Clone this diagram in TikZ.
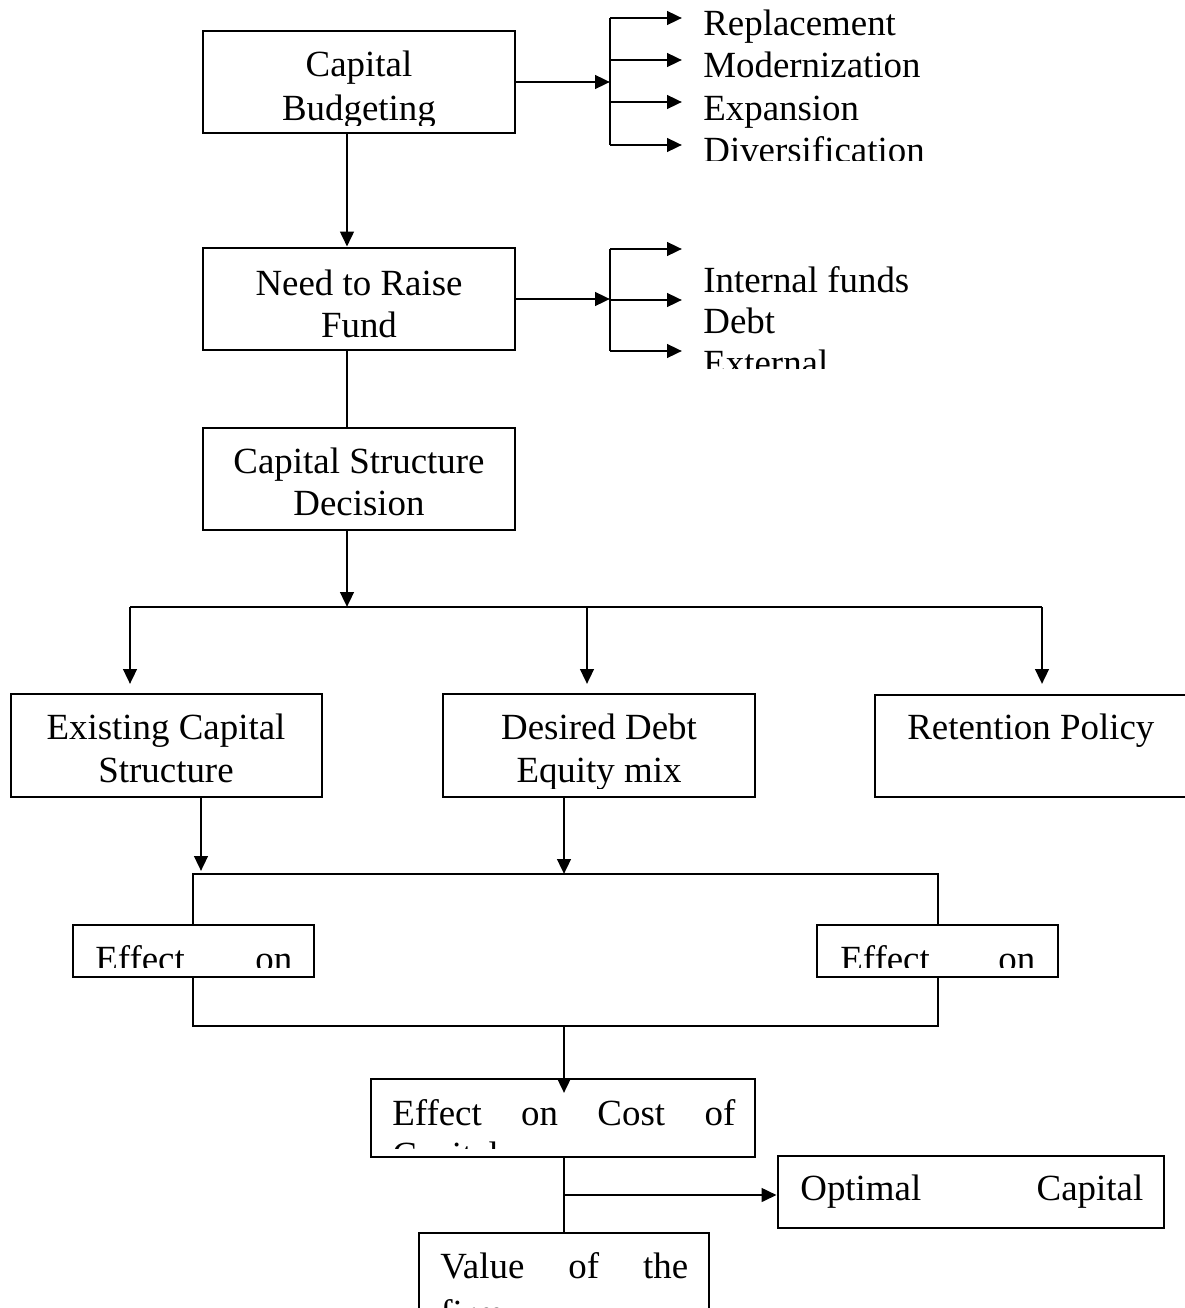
\documentclass[tikz,border=0pt]{standalone}
\usepackage{fontspec}
\setmainfont{Liberation Serif}
\usetikzlibrary{arrows.meta,fit,calc}

\begin{document}
\begin{tikzpicture}[x=0.02cm,y=-0.02cm,
    box/.style={draw,line width=1.6pt,inner sep=0pt},
    link/.style={line width=1.6pt},
    arr/.style={link,-{Triangle[length=0.3cm,width=0.27cm]}},
    txt/.style={inner sep=0pt,anchor=base,font=\fontsize{21}{25}\selectfont},
    ltxt/.style={txt,anchor=base west}]
  \useasboundingbox (0,0) rectangle (1184,1308);

  \node[box,fit={(203,31) (515,133)}] (budget) {};
  \node[box,fit={(203,248) (515,350)}] (fund) {};
  \node[box,fit={(203,428) (515,530)}] (csd) {};
  \node[box,fit={(11,694) (322,797)}] (exist) {};
  \node[box,fit={(443,694) (755,797)}] (mix) {};
  \node[box,fit={(875,695) (1192,797)}] (retain) {};
  \node[box,fit={(73,925) (314,977)}] (effL) {};
  \node[box,fit={(817,925) (1058,977)}] (effR) {};
  \node[box,fit={(371,1079) (755,1157)}] (cost) {};
  \node[box,fit={(778,1156) (1164,1228)}] (opt) {};
  \node[box,fit={(419,1233) (709,1330)}] (value) {};

  \begin{scope}
    \clip (205,33) rectangle (513,126);
    \node[txt] (budgetA) at (359,77) {Capital};
    \node[txt] (budgetB) at (359,120) {Budgeting};
  \end{scope}
  \node[txt] (fundA) at (359,295) {Need to Raise};
  \node[txt] (fundB) at (359,337) {Fund};
  \node[txt] (csdA) at (359,473) {Capital Structure};
  \node[txt] (csdB) at (359,515) {Decision};
  \node[txt] (existA) at (166,739) {Existing Capital};
  \node[txt] (existB) at (166,782) {Structure};
  \begin{scope}
    \clip (445,696) rectangle (753,788);
    \node[txt] (mixA) at (599,739) {Desired Debt};
    \node[txt] (mixB) at (599,782) {Equity mix};
  \end{scope}
  \node[ltxt] (retainA) at (907,739) {Retention Policy};
  \begin{scope}
    \clip (75,927) rectangle (312,967);
    \node[ltxt] (effLA) at (95,971) {\hbox to 3.94cm{Effect\hfill on}};
  \end{scope}
  \begin{scope}
    \clip (819,927) rectangle (1056,967);
    \node[ltxt] (effRA) at (840,971) {\hbox to 3.9cm{Effect\hfill on}};
  \end{scope}
  \begin{scope}
    \clip (373,1081) rectangle (753,1148);
    \node[ltxt] (costA) at (392,1125) {\hbox to 6.86cm{Effect\hfill on\hfill Cost\hfill of}};
    \node[ltxt] (costB) at (392,1167) {Capital};
  \end{scope}
  \node[ltxt] (optA) at (800,1200) {\hbox to 6.86cm{Optimal\hfill Capital}};
  \node[ltxt] (valueA) at (440,1278) {\hbox to 4.96cm{Value\hfill of\hfill the}};
  \node[ltxt] (valueB) at (440,1325) {firm};

  \begin{scope}
    \clip (690,0) rectangle (1000,160);
    \foreach \b/\t [count=\i] in {36/Replacement,78/Modernization,120/Expansion,162/Diversification}
      \node[ltxt] (use\i) at (703,\b) {\t};
  \end{scope}
  \begin{scope}
    \clip (690,240) rectangle (1000,368);
    \foreach \b/\t [count=\i] in {292/Internal funds,333/Debt,375/External}
      \node[ltxt] (src\i) at (703,\b) {\t};
  \end{scope}

  \coordinate (forkA) at (610,80);
  \draw[arr] (budget.east) -- (budget.east -| forkA);
  \foreach \y [count=\i] in {18,60,102,145} {
    \coordinate (tipA\i) at (682,\y);
    \draw[arr] (tipA\i -| forkA) -- (tipA\i);
  }
  \draw[link] (tipA1 -| forkA) -- (tipA4 -| forkA);

  \coordinate (forkB) at (610,299);
  \draw[arr] (fund.east) -- (fund.east -| forkB);
  \foreach \y [count=\i] in {249,300,351} {
    \coordinate (tipB\i) at (682,\y);
    \draw[arr] (tipB\i -| forkB) -- (tipB\i);
  }
  \draw[link] (tipB1 -| forkB) -- (tipB3 -| forkB);

  \coordinate (spine) at (347,0);
  \coordinate (split) at (347,607);
  \draw[arr] (budget.south -| spine) -- (fund.north -| spine);
  \draw[link] (fund.south -| spine) -- (csd.north -| spine);
  \draw[arr] (csd.south -| spine) -- (split);
  \foreach \n/\x in {exist/130,mix/587,retain/1042} {
    \coordinate (in-\n) at (\x,684);
    \draw[arr] (in-\n |- split) -- (in-\n);
  }
  \draw[link] (in-exist |- split) -- (in-retain |- split);

  \coordinate (brTL) at (193,874);
  \coordinate (brTR) at (938,874);
  \coordinate (brBL) at (193,1026);
  \coordinate (brBR) at (938,1026);
  \draw[link] (effL.north -| brTL) -- (brTL) -- (brTR) -- (effR.north -| brTR);
  \draw[link] (effL.south -| brBL) -- (brBL) -- (brBR) -- (effR.south -| brBR);
  \coordinate (exTip) at (201,871);
  \coordinate (mixTip) at (564,874);
  \draw[arr] (exist.south -| exTip) -- (exTip);
  \draw[arr] (mix.south -| mixTip) -- (mixTip);

  \coordinate (costTip) at (564,1093);
  \coordinate (branch) at (564,1195);
  \draw[arr] (costTip |- brBL) -- (costTip);
  \draw[link] (cost.south -| costTip) -- (value.north -| costTip);
  \draw[arr] (branch) -- (branch -| opt.west);
\end{tikzpicture}
\end{document}
